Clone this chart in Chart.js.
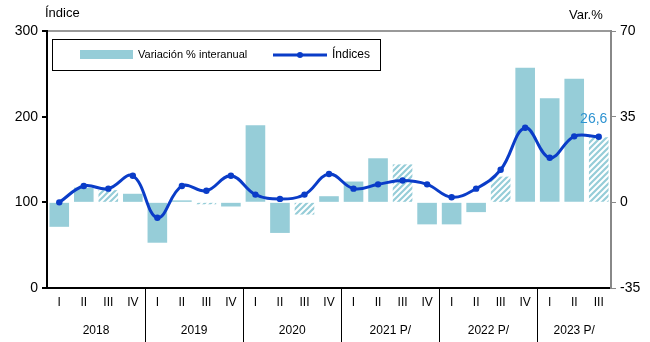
<!DOCTYPE html>
<html>
<head>
<meta charset="utf-8">
<script src="https://cdn.jsdelivr.net/npm/chart.js@4/dist/chart.umd.min.js"></script>
<style>
  html, body { margin: 0; padding: 0; background: #fff; }
  #wrap { width: 650px; height: 342px; }
</style>
</head>
<body>
<div id="wrap"><canvas id="chart" width="650" height="342"></canvas></div>
<script>
// quarters and year groups
const quarters = ['I','II','III','IV','I','II','III','IV','I','II','III','IV','I','II','III','IV','I','II','III','IV','I','II','III'];
const years = ['2018', '2019', '2020', '2021 P/', '2022 P/', '2023 P/'];

// interannual % variation (right axis)
const variacion = [-10, 6, 5, 3.5, -16.5, 0.8, -0.8, -1.7, 31.5, -12.5, -5, 2.5, 8.5, 18, 15.5, -9, -9, -4, 10.5, 55, 42.5, 50.5, 26.6];
// index values (left axis)
const indices = [100, 119, 116, 131, 82, 119, 113.5, 131, 109, 104, 109, 133, 116, 121, 125.5, 121, 106, 116, 138, 187, 152, 177, 176.5];

const leftTicks = [0, 100, 200, 300];
const rightTicks = [-35, 0, 35, 70];

const barColor = '#96CDD8';
const lineColor = '#0A3CC8';

// diagonal hatch for the III quarter (preliminary) bars
function makeHatch() {
    const c = document.createElement('canvas');
    c.width = 6; c.height = 6;
    const g = c.getContext('2d');
    g.fillStyle = '#ffffff';
    g.fillRect(0, 0, 6, 6);
    g.strokeStyle = barColor;
    g.lineWidth = 2.2;
    g.beginPath();
    g.moveTo(-1, 7); g.lineTo(7, -1);
    g.moveTo(-4, 4); g.lineTo(4, -4);
    g.moveTo(2, 10); g.lineTo(10, 2);
    g.stroke();
    return g.createPattern(c, 'repeat');
}
const hatch = makeHatch();

const overlay = {
    id: 'overlay',
    afterDraw(chart) {
        const ctx = chart.ctx;
        const x = chart.scales.x;
        const area = chart.chartArea;
        ctx.save();

        // axis titles
        ctx.fillStyle = '#000';
        ctx.font = '13px "Liberation Sans", Arial, sans-serif';
        ctx.textBaseline = 'middle';
        ctx.textAlign = 'left';
        ctx.fillText('Índice', 45, 13);
        ctx.fillText('Var.%', 569, 15);

        // year separators and labels
        ctx.strokeStyle = '#000';
        ctx.lineWidth = 1;
        let start = 0;
        years.forEach((y, k) => {
            const n = Math.min(4, quarters.length - start);
            const x0 = x.getPixelForValue(start);
            const x1 = x.getPixelForValue(start + n - 1);
            if (k > 0) {
                const half = (x.getPixelForValue(1) - x.getPixelForValue(0)) / 2;
                const sx = Math.round(x0 - half) + 0.5;
                ctx.beginPath();
                ctx.moveTo(sx, area.bottom);
                ctx.lineTo(sx, 342);
                ctx.stroke();
            }
            ctx.textAlign = 'center';
            ctx.font = '12px "Liberation Sans", Arial, sans-serif';
            ctx.fillText(y, (x0 + x1) / 2, 331);
            start += n;
        });

        // label for last value
        const last = variacion.length - 1;
        const bx = x.getPixelForValue(last);
        const by = chart.scales.y1.getPixelForValue(variacion[last]);
        ctx.fillStyle = '#2E93D1';
        ctx.font = '14px "Liberation Sans", Arial, sans-serif';
        ctx.textAlign = 'center';
        ctx.fillText(String(variacion[last]).replace('.', ','), bx - 5, by - 18);

        // legend box
        ctx.strokeStyle = '#000';
        ctx.lineWidth = 1;
        ctx.strokeRect(52.5, 39.5, 328, 31);
        ctx.fillStyle = barColor;
        ctx.fillRect(80, 50, 53, 9);
        ctx.fillStyle = '#000';
        ctx.font = '11px "Liberation Sans Narrow", "Liberation Sans", Arial, sans-serif';
        ctx.textAlign = 'left';
        ctx.fillText('Variación % interanual', 138, 55);
        ctx.strokeStyle = lineColor;
        ctx.lineWidth = 3;
        ctx.beginPath();
        ctx.moveTo(273, 55); ctx.lineTo(327, 55);
        ctx.stroke();
        ctx.fillStyle = lineColor;
        ctx.beginPath();
        ctx.arc(300, 55, 3, 0, Math.PI * 2);
        ctx.fill();
        ctx.fillStyle = '#000';
        ctx.font = '12px "Liberation Sans Narrow", "Liberation Sans", Arial, sans-serif';
        ctx.fillText('Índices', 332, 55);
        ctx.restore();
    }
};

new Chart(document.getElementById('chart'), {
    data: {
        labels: quarters,
        datasets: [
            {
                type: 'line',
                label: 'Índices',
                data: indices,
                yAxisID: 'y',
                borderColor: lineColor,
                backgroundColor: lineColor,
                borderWidth: 3,
                pointRadius: 3.2,
                pointBackgroundColor: lineColor,
                pointBorderWidth: 0,
                tension: 0.4,
                order: 0
            },
            {
                type: 'bar',
                label: 'Variación % interanual',
                data: variacion,
                yAxisID: 'y1',
                backgroundColor: variacion.map((v, i) => i % 4 === 2 ? hatch : barColor),
                barPercentage: 0.8,
                categoryPercentage: 1.0,
                order: 1
            }
        ]
    },
    options: {
        responsive: false,
        animation: false,
        layout: { padding: { top: 31, left: 0, right: 0, bottom: 0 } },
        plugins: {
            legend: { display: false },
            tooltip: { enabled: false }
        },
        scales: {
            x: {
                offset: true,
                border: { color: '#000', width: 2 },
                grid: { display: false, drawTicks: false },
                ticks: {
                    color: '#000',
                    padding: 7,
                    maxRotation: 0,
                    autoSkip: false,
                    font: { family: '"Liberation Sans", Arial, sans-serif', size: 12 }
                },
                afterFit(s) { s.height = 54; }
            },
            y: {
                position: 'left',
                min: 0, max: 300,
                afterBuildTicks(s) { s.ticks = leftTicks.map(v => ({ value: v })); },
                border: { color: '#000', width: 2 },
                grid: {
                    color: c => c.tick && c.tick.value === 300 ? '#999' : 'rgba(0,0,0,0)',
                    lineWidth: 2,
                    tickColor: '#000',
                    tickLength: 5,
                    drawTicks: true
                },
                ticks: {
                    color: '#000',
                    padding: 4,
                    font: { family: '"Liberation Sans", Arial, sans-serif', size: 14 }
                },
                afterFit(s) { s.width = 47; }
            },
            y1: {
                position: 'right',
                min: -35, max: 70,
                afterBuildTicks(s) { s.ticks = rightTicks.map(v => ({ value: v })); },
                border: { color: '#888', width: 2 },
                grid: { drawOnChartArea: false, tickColor: '#888', tickLength: 5 },
                ticks: {
                    color: '#000',
                    padding: 4,
                    font: { family: '"Liberation Sans", Arial, sans-serif', size: 14 }
                },
                afterFit(s) { s.width = 39; }
            }
        }
    },
    plugins: [overlay]
});
</script>
</body>
</html>
